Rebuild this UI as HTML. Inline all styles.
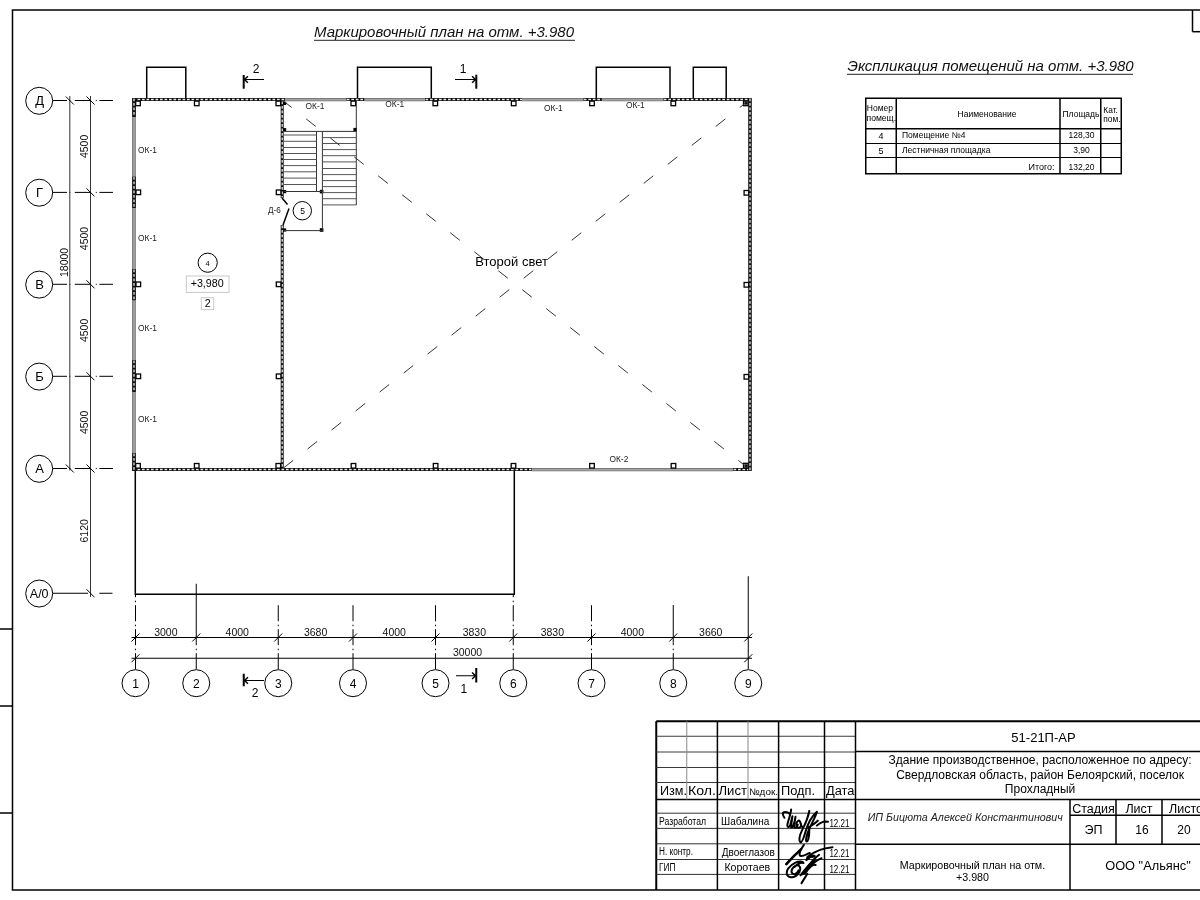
<!DOCTYPE html>
<html><head><meta charset="utf-8"><title>Маркировочный план</title>
<style>
html,body{margin:0;padding:0;background:#fff;}
body{width:1200px;height:900px;overflow:hidden;position:relative;}
svg{position:absolute;left:0;top:0;display:block;will-change:transform;}
text{font-family:"Liberation Sans", sans-serif;}
</style></head><body>
<svg width="1200" height="900" viewBox="0 0 1200 900">
<rect x="0" y="0" width="1200" height="900" fill="#fff"/>
<line x1="12.5" y1="10" x2="12.5" y2="890" stroke="#000" stroke-width="1.5" />
<line x1="11.75" y1="10" x2="1200" y2="10" stroke="#000" stroke-width="1.5" />
<line x1="11.75" y1="890" x2="1200" y2="890" stroke="#000" stroke-width="1.5" />
<line x1="1192.5" y1="10" x2="1192.5" y2="31.7" stroke="#000" stroke-width="1.5" />
<line x1="1192.5" y1="31.7" x2="1200" y2="31.7" stroke="#000" stroke-width="1.5" />
<line x1="0" y1="629" x2="12" y2="629" stroke="#000" stroke-width="1.5" />
<line x1="0" y1="706" x2="12" y2="706" stroke="#000" stroke-width="1.5" />
<line x1="0" y1="813" x2="12" y2="813" stroke="#000" stroke-width="1.5" />
<text x="314" y="37" font-size="15" text-anchor="start" font-style="italic" fill="#111" >Маркировочный план на отм. +3.980</text>
<line x1="314" y1="40.3" x2="575" y2="40.3" stroke="#222" stroke-width="1" />
<text x="847.5" y="70.5" font-size="15" text-anchor="start" font-style="italic" fill="#111" >Экспликация помещений на отм. +3.980</text>
<line x1="847" y1="74.3" x2="1133" y2="74.3" stroke="#222" stroke-width="1" />
<rect x="865.75" y="98.25" width="255.5" height="75.5" stroke="#000" stroke-width="1.5" fill="none" />
<line x1="896.25" y1="98.25" x2="896.25" y2="173.75" stroke="#000" stroke-width="1.5" />
<line x1="1060" y1="98.25" x2="1060" y2="173.75" stroke="#000" stroke-width="1.5" />
<line x1="1100.75" y1="98.25" x2="1100.75" y2="173.75" stroke="#000" stroke-width="1.5" />
<line x1="865.75" y1="128.75" x2="1121.25" y2="128.75" stroke="#000" stroke-width="1.5" />
<line x1="865.75" y1="143.5" x2="1121.25" y2="143.5" stroke="#000" stroke-width="1" />
<line x1="865.75" y1="157.5" x2="1121.25" y2="157.5" stroke="#000" stroke-width="1" />
<text x="866.8" y="111.2" font-size="8.5" text-anchor="start" fill="#000" >Номер</text>
<text x="866.5" y="120.7" font-size="8.6" text-anchor="start" fill="#000" >помещ.</text>
<text x="987" y="116.5" font-size="8.5" text-anchor="middle" fill="#000" >Наименование</text>
<text x="1081" y="117" font-size="8.5" text-anchor="middle" fill="#000" >Площадь</text>
<text x="1103.3" y="113" font-size="8.4" text-anchor="start" fill="#000" >Кат.</text>
<text x="1103.3" y="121.7" font-size="8.4" text-anchor="start" fill="#000" >пом.</text>
<text x="881" y="139" font-size="9" text-anchor="middle" fill="#000" >4</text>
<text x="902" y="138.1" font-size="8.5" text-anchor="start" fill="#000" >Помещение №4</text>
<text x="1081.5" y="138.4" font-size="8.5" text-anchor="middle" fill="#000" >128,30</text>
<text x="881" y="154" font-size="9" text-anchor="middle" fill="#000" >5</text>
<text x="902" y="153" font-size="8.5" text-anchor="start" fill="#000" >Лестничная площадка</text>
<text x="1081.5" y="153.1" font-size="8.5" text-anchor="middle" fill="#000" >3,90</text>
<text x="1054.5" y="170" font-size="9" text-anchor="end" fill="#000" >Итого:</text>
<text x="1081.5" y="169.9" font-size="8.5" text-anchor="middle" fill="#000" >132,20</text>
<polyline points="146.7,98 146.7,67.2 185.8,67.2 185.8,98" fill="none" stroke="#000" stroke-width="1.5"/>
<polyline points="357.5,98 357.5,67.2 431.3,67.2 431.3,98" fill="none" stroke="#000" stroke-width="1.5"/>
<polyline points="596.3,98 596.3,67.2 670,67.2 670,98" fill="none" stroke="#000" stroke-width="1.5"/>
<polyline points="693.3,98 693.3,67.2 726.2,67.2 726.2,98" fill="none" stroke="#000" stroke-width="1.5"/>
<rect x="132.5" y="98" width="152.5" height="3" stroke="none" stroke-width="0" fill="#111" />
<line x1="133.0" y1="99.5" x2="284.5" y2="99.5" stroke="#e6e6e6" stroke-width="1.3" stroke-dasharray="2.7 1.8"/>
<rect x="285" y="98" width="61.30000000000001" height="3.2" stroke="none" stroke-width="0" fill="#a2a2a2" />
<line x1="285" y1="98.5" x2="346.3" y2="98.5" stroke="#7c7c7c" stroke-width="1" />
<line x1="285" y1="100.7" x2="346.3" y2="100.7" stroke="#8c8c8c" stroke-width="1" />
<rect x="346.3" y="98" width="18.399999999999977" height="3" stroke="none" stroke-width="0" fill="#111" />
<line x1="346.8" y1="99.5" x2="364.2" y2="99.5" stroke="#e6e6e6" stroke-width="1.3" stroke-dasharray="2.7 1.8"/>
<rect x="364.7" y="98" width="60.30000000000001" height="3.2" stroke="none" stroke-width="0" fill="#a2a2a2" />
<line x1="364.7" y1="98.5" x2="425" y2="98.5" stroke="#7c7c7c" stroke-width="1" />
<line x1="364.7" y1="100.7" x2="425" y2="100.7" stroke="#8c8c8c" stroke-width="1" />
<rect x="425" y="98" width="97.5" height="3" stroke="none" stroke-width="0" fill="#111" />
<line x1="425.5" y1="99.5" x2="522.0" y2="99.5" stroke="#e6e6e6" stroke-width="1.3" stroke-dasharray="2.7 1.8"/>
<rect x="522.5" y="98" width="60.799999999999955" height="3.2" stroke="none" stroke-width="0" fill="#a2a2a2" />
<line x1="522.5" y1="98.5" x2="583.3" y2="98.5" stroke="#7c7c7c" stroke-width="1" />
<line x1="522.5" y1="100.7" x2="583.3" y2="100.7" stroke="#8c8c8c" stroke-width="1" />
<rect x="583.3" y="98" width="19.200000000000045" height="3" stroke="none" stroke-width="0" fill="#111" />
<line x1="583.8" y1="99.5" x2="602.0" y2="99.5" stroke="#e6e6e6" stroke-width="1.3" stroke-dasharray="2.7 1.8"/>
<rect x="602.5" y="98" width="60.799999999999955" height="3.2" stroke="none" stroke-width="0" fill="#a2a2a2" />
<line x1="602.5" y1="98.5" x2="663.3" y2="98.5" stroke="#7c7c7c" stroke-width="1" />
<line x1="602.5" y1="100.7" x2="663.3" y2="100.7" stroke="#8c8c8c" stroke-width="1" />
<rect x="663.3" y="98" width="87.70000000000005" height="3" stroke="none" stroke-width="0" fill="#111" />
<line x1="663.8" y1="99.5" x2="750.5" y2="99.5" stroke="#e6e6e6" stroke-width="1.3" stroke-dasharray="2.7 1.8"/>
<rect x="132.5" y="468" width="399.5" height="3" stroke="none" stroke-width="0" fill="#111" />
<line x1="133.0" y1="469.5" x2="531.5" y2="469.5" stroke="#e6e6e6" stroke-width="1.3" stroke-dasharray="2.7 1.8"/>
<rect x="532" y="468" width="201" height="3.2" stroke="none" stroke-width="0" fill="#a2a2a2" />
<line x1="532" y1="468.5" x2="733" y2="468.5" stroke="#7c7c7c" stroke-width="1" />
<line x1="532" y1="470.7" x2="733" y2="470.7" stroke="#8c8c8c" stroke-width="1" />
<rect x="733" y="468" width="18" height="3" stroke="none" stroke-width="0" fill="#111" />
<line x1="733.5" y1="469.5" x2="750.5" y2="469.5" stroke="#e6e6e6" stroke-width="1.3" stroke-dasharray="2.7 1.8"/>
<rect x="132.1" y="98" width="3.8" height="19" stroke="none" stroke-width="0" fill="#111" />
<line x1="134.0" y1="98.5" x2="134.0" y2="116.5" stroke="#e6e6e6" stroke-width="1.3" stroke-dasharray="2.7 1.8"/>
<rect x="132.1" y="117" width="3.8" height="59.5" stroke="none" stroke-width="0" fill="#a2a2a2" />
<line x1="132.6" y1="117" x2="132.6" y2="176.5" stroke="#7c7c7c" stroke-width="1" />
<line x1="135.4" y1="117" x2="135.4" y2="176.5" stroke="#8c8c8c" stroke-width="1" />
<rect x="132.1" y="176.5" width="3.8" height="31.5" stroke="none" stroke-width="0" fill="#111" />
<line x1="134.0" y1="177.0" x2="134.0" y2="207.5" stroke="#e6e6e6" stroke-width="1.3" stroke-dasharray="2.7 1.8"/>
<rect x="132.1" y="208" width="3.8" height="61" stroke="none" stroke-width="0" fill="#a2a2a2" />
<line x1="132.6" y1="208" x2="132.6" y2="269" stroke="#7c7c7c" stroke-width="1" />
<line x1="135.4" y1="208" x2="135.4" y2="269" stroke="#8c8c8c" stroke-width="1" />
<rect x="132.1" y="269" width="3.8" height="31.69999999999999" stroke="none" stroke-width="0" fill="#111" />
<line x1="134.0" y1="269.5" x2="134.0" y2="300.2" stroke="#e6e6e6" stroke-width="1.3" stroke-dasharray="2.7 1.8"/>
<rect x="132.1" y="300.7" width="3.8" height="59.30000000000001" stroke="none" stroke-width="0" fill="#a2a2a2" />
<line x1="132.6" y1="300.7" x2="132.6" y2="360" stroke="#7c7c7c" stroke-width="1" />
<line x1="135.4" y1="300.7" x2="135.4" y2="360" stroke="#8c8c8c" stroke-width="1" />
<rect x="132.1" y="360" width="3.8" height="32" stroke="none" stroke-width="0" fill="#111" />
<line x1="134.0" y1="360.5" x2="134.0" y2="391.5" stroke="#e6e6e6" stroke-width="1.3" stroke-dasharray="2.7 1.8"/>
<rect x="132.1" y="392" width="3.8" height="61" stroke="none" stroke-width="0" fill="#a2a2a2" />
<line x1="132.6" y1="392" x2="132.6" y2="453" stroke="#7c7c7c" stroke-width="1" />
<line x1="135.4" y1="392" x2="135.4" y2="453" stroke="#8c8c8c" stroke-width="1" />
<rect x="132.1" y="453" width="3.8" height="18" stroke="none" stroke-width="0" fill="#111" />
<line x1="134.0" y1="453.5" x2="134.0" y2="470.5" stroke="#e6e6e6" stroke-width="1.3" stroke-dasharray="2.7 1.8"/>
<rect x="748.2" y="98" width="3.6" height="373" stroke="none" stroke-width="0" fill="#111" />
<line x1="750.0" y1="98.5" x2="750.0" y2="470.5" stroke="#e6e6e6" stroke-width="1.3" stroke-dasharray="2.7 1.8"/>
<rect x="280.7" y="101" width="3" height="97" stroke="none" stroke-width="0" fill="#111" />
<line x1="282.2" y1="101.5" x2="282.2" y2="197.5" stroke="#e6e6e6" stroke-width="1.3" stroke-dasharray="2.7 1.8"/>
<rect x="280.7" y="225" width="3" height="243" stroke="none" stroke-width="0" fill="#111" />
<line x1="282.2" y1="225.5" x2="282.2" y2="467.5" stroke="#e6e6e6" stroke-width="1.3" stroke-dasharray="2.7 1.8"/>
<rect x="135.7" y="101.10000000000001" width="4.6" height="4.6" stroke="#000" stroke-width="1.3" fill="#fff" />
<rect x="194.45" y="101.10000000000001" width="4.6" height="4.6" stroke="#000" stroke-width="1.3" fill="#fff" />
<rect x="276.0" y="101.10000000000001" width="4.6" height="4.6" stroke="#000" stroke-width="1.3" fill="#fff" />
<rect x="351.0" y="101.10000000000001" width="4.6" height="4.6" stroke="#000" stroke-width="1.3" fill="#fff" />
<rect x="433.0" y="101.10000000000001" width="4.6" height="4.6" stroke="#000" stroke-width="1.3" fill="#fff" />
<rect x="511.40000000000003" y="101.10000000000001" width="4.6" height="4.6" stroke="#000" stroke-width="1.3" fill="#fff" />
<rect x="589.7" y="101.10000000000001" width="4.6" height="4.6" stroke="#000" stroke-width="1.3" fill="#fff" />
<rect x="671.0" y="101.10000000000001" width="4.6" height="4.6" stroke="#000" stroke-width="1.3" fill="#fff" />
<rect x="135.7" y="463.5" width="4.6" height="4.6" stroke="#000" stroke-width="1.3" fill="#fff" />
<rect x="194.39999999999998" y="463.5" width="4.6" height="4.6" stroke="#000" stroke-width="1.3" fill="#fff" />
<rect x="276.0" y="463.5" width="4.6" height="4.6" stroke="#000" stroke-width="1.3" fill="#fff" />
<rect x="351.2" y="463.5" width="4.6" height="4.6" stroke="#000" stroke-width="1.3" fill="#fff" />
<rect x="433.3" y="463.5" width="4.6" height="4.6" stroke="#000" stroke-width="1.3" fill="#fff" />
<rect x="511.2" y="463.5" width="4.6" height="4.6" stroke="#000" stroke-width="1.3" fill="#fff" />
<rect x="589.7" y="463.5" width="4.6" height="4.6" stroke="#000" stroke-width="1.3" fill="#fff" />
<rect x="671.2" y="463.5" width="4.6" height="4.6" stroke="#000" stroke-width="1.3" fill="#fff" />
<rect x="136.0" y="190.0" width="4.6" height="4.6" stroke="#000" stroke-width="1.3" fill="#fff" />
<rect x="744.1" y="190.5" width="4.6" height="4.6" stroke="#000" stroke-width="1.3" fill="#fff" />
<rect x="276.3" y="190.0" width="4.6" height="4.6" stroke="#000" stroke-width="1.3" fill="#fff" />
<rect x="136.0" y="282.0" width="4.6" height="4.6" stroke="#000" stroke-width="1.3" fill="#fff" />
<rect x="744.1" y="282.5" width="4.6" height="4.6" stroke="#000" stroke-width="1.3" fill="#fff" />
<rect x="276.3" y="282.0" width="4.6" height="4.6" stroke="#000" stroke-width="1.3" fill="#fff" />
<rect x="136.0" y="374.0" width="4.6" height="4.6" stroke="#000" stroke-width="1.3" fill="#fff" />
<rect x="744.1" y="374.5" width="4.6" height="4.6" stroke="#000" stroke-width="1.3" fill="#fff" />
<rect x="276.3" y="374.0" width="4.6" height="4.6" stroke="#000" stroke-width="1.3" fill="#fff" />
<rect x="743.5" y="101.10000000000001" width="4.6" height="4.6" stroke="#000" stroke-width="1.3" fill="#fff" />
<rect x="744.5" y="101.7" width="3" height="3" stroke="none" stroke-width="0" fill="#000" />
<rect x="743.5" y="463.3" width="4.6" height="4.6" stroke="#000" stroke-width="1.3" fill="#fff" />
<rect x="744.5" y="464.3" width="3" height="3" stroke="none" stroke-width="0" fill="#000" />
<rect x="283.0" y="101.80000000000001" width="3.2" height="3.2" stroke="none" stroke-width="0" fill="#000" />
<rect x="283.0" y="128.1" width="3.2" height="3.2" stroke="none" stroke-width="0" fill="#000" />
<rect x="353.4" y="127.89999999999999" width="3.6" height="3.6" stroke="none" stroke-width="0" fill="#000" />
<rect x="283.0" y="190.0" width="3.2" height="3.2" stroke="none" stroke-width="0" fill="#000" />
<rect x="319.8" y="189.79999999999998" width="3.6" height="3.6" stroke="none" stroke-width="0" fill="#000" />
<rect x="283.0" y="228.4" width="3.2" height="3.2" stroke="none" stroke-width="0" fill="#000" />
<rect x="319.8" y="228.2" width="3.6" height="3.6" stroke="none" stroke-width="0" fill="#000" />
<line x1="283.7" y1="131.4" x2="356.3" y2="131.4" stroke="#333" stroke-width="1" />
<line x1="356.3" y1="101" x2="356.3" y2="205" stroke="#333" stroke-width="1" />
<line x1="316.5" y1="131.4" x2="316.5" y2="191.5" stroke="#333" stroke-width="1" />
<line x1="322.4" y1="131.4" x2="322.4" y2="230.6" stroke="#333" stroke-width="1" />
<line x1="283.7" y1="135.0" x2="316.5" y2="135.0" stroke="#555" stroke-width="1" />
<line x1="283.7" y1="141.3" x2="316.5" y2="141.3" stroke="#555" stroke-width="1" />
<line x1="283.7" y1="147.5" x2="316.5" y2="147.5" stroke="#555" stroke-width="1" />
<line x1="283.7" y1="153.5" x2="316.5" y2="153.5" stroke="#555" stroke-width="1" />
<line x1="283.7" y1="159.5" x2="316.5" y2="159.5" stroke="#555" stroke-width="1" />
<line x1="283.7" y1="165.6" x2="316.5" y2="165.6" stroke="#555" stroke-width="1" />
<line x1="283.7" y1="171.8" x2="316.5" y2="171.8" stroke="#555" stroke-width="1" />
<line x1="283.7" y1="178.1" x2="316.5" y2="178.1" stroke="#555" stroke-width="1" />
<line x1="283.7" y1="184.5" x2="316.5" y2="184.5" stroke="#555" stroke-width="1" />
<line x1="322.4" y1="137.6" x2="356.3" y2="137.6" stroke="#555" stroke-width="1" />
<line x1="322.4" y1="143.5" x2="356.3" y2="143.5" stroke="#555" stroke-width="1" />
<line x1="322.4" y1="149.6" x2="356.3" y2="149.6" stroke="#555" stroke-width="1" />
<line x1="322.4" y1="155.7" x2="356.3" y2="155.7" stroke="#555" stroke-width="1" />
<line x1="322.4" y1="161.9" x2="356.3" y2="161.9" stroke="#555" stroke-width="1" />
<line x1="322.4" y1="168.5" x2="356.3" y2="168.5" stroke="#555" stroke-width="1" />
<line x1="322.4" y1="174.6" x2="356.3" y2="174.6" stroke="#555" stroke-width="1" />
<line x1="322.4" y1="180.6" x2="356.3" y2="180.6" stroke="#555" stroke-width="1" />
<line x1="322.4" y1="186.6" x2="356.3" y2="186.6" stroke="#555" stroke-width="1" />
<line x1="322.4" y1="192.6" x2="356.3" y2="192.6" stroke="#555" stroke-width="1" />
<line x1="322.4" y1="198.7" x2="356.3" y2="198.7" stroke="#555" stroke-width="1" />
<line x1="322.4" y1="204.9" x2="356.3" y2="204.9" stroke="#555" stroke-width="1" />
<line x1="283.7" y1="191.5" x2="322" y2="191.5" stroke="#333" stroke-width="1" />
<line x1="283.7" y1="230.6" x2="322" y2="230.6" stroke="#333" stroke-width="1" />
<polyline points="282,198 287.5,204.5" stroke="#000" stroke-width="1.5" fill="none"/>
<polyline points="289,208.5 283,225" stroke="#000" stroke-width="1.5" fill="none"/>
<text x="268.1" y="213.2" font-size="9.8" text-anchor="start" fill="#222" textLength="12.8" lengthAdjust="spacingAndGlyphs">Д-6</text>
<circle cx="302.3" cy="210.7" r="9.2" stroke="#000" stroke-width="1" fill="none"/>
<text x="302.5" y="213.8" font-size="8.5" text-anchor="middle" fill="#000" >5</text>
<line x1="283.5" y1="101" x2="748" y2="468" stroke="#333" stroke-width="1" stroke-dasharray="12.2 18.4" stroke-dashoffset="1.7"/>
<line x1="748" y1="101" x2="283.5" y2="468" stroke="#333" stroke-width="1" stroke-dasharray="12.2 18.4" stroke-dashoffset="1.7"/>
<text x="511.6" y="266.3" font-size="13" text-anchor="middle" fill="#000" >Второй свет</text>
<text x="315" y="108.7" font-size="8.4" text-anchor="middle" fill="#222" >ОК-1</text>
<text x="394.7" y="107.2" font-size="8.4" text-anchor="middle" fill="#222" >ОК-1</text>
<text x="553.3" y="110.5" font-size="8.4" text-anchor="middle" fill="#222" >ОК-1</text>
<text x="635.3" y="108.2" font-size="8.4" text-anchor="middle" fill="#222" >ОК-1</text>
<text x="138" y="153.1" font-size="8.4" text-anchor="start" fill="#222" >ОК-1</text>
<text x="138" y="241.1" font-size="8.4" text-anchor="start" fill="#222" >ОК-1</text>
<text x="138" y="330.6" font-size="8.4" text-anchor="start" fill="#222" >ОК-1</text>
<text x="138" y="422.1" font-size="8.4" text-anchor="start" fill="#222" >ОК-1</text>
<text x="618.9" y="462.0" font-size="8.4" text-anchor="middle" fill="#222" >ОК-2</text>
<circle cx="207.7" cy="262.7" r="9.6" stroke="#000" stroke-width="1" fill="none"/>
<text x="207.7" y="265.6" font-size="7.5" text-anchor="middle" fill="#000" >4</text>
<rect x="186.3" y="276" width="42.7" height="16.4" stroke="#c8c8c8" stroke-width="1" fill="#fff" />
<text x="207.2" y="287.3" font-size="10.7" text-anchor="middle" fill="#000" >+3,980</text>
<rect x="201.3" y="297.7" width="12.4" height="11.9" stroke="#c8c8c8" stroke-width="1" fill="#fff" />
<text x="207.7" y="307.3" font-size="10.6" text-anchor="middle" fill="#000" >2</text>
<polyline points="135.3,471 135.3,594.3 514.3,594.3 514.3,471" fill="none" stroke="#000" stroke-width="1.5"/>
<line x1="243.7" y1="75" x2="243.7" y2="88.7" stroke="#000" stroke-width="2" />
<line x1="264" y1="79.5" x2="243.7" y2="79.5" stroke="#000" stroke-width="1" />
<polyline points="247.89999999999998,76.3 244.5,79.5 247.89999999999998,82.7" fill="none" stroke="#000" stroke-width="1.5"/>
<text x="256" y="73" font-size="12" text-anchor="middle" fill="#000" >2</text>
<line x1="476.3" y1="74.7" x2="476.3" y2="88.7" stroke="#000" stroke-width="2" />
<line x1="455" y1="79.5" x2="476.3" y2="79.5" stroke="#000" stroke-width="1" />
<polyline points="472.1,76.3 475.5,79.5 472.1,82.7" fill="none" stroke="#000" stroke-width="1.5"/>
<text x="463" y="73" font-size="12" text-anchor="middle" fill="#000" >1</text>
<line x1="243.75" y1="673.75" x2="243.75" y2="686.25" stroke="#000" stroke-width="2" />
<line x1="264" y1="680.5" x2="243.75" y2="680.5" stroke="#000" stroke-width="1" />
<polyline points="247.95,677.3 244.55,680.5 247.95,683.7" fill="none" stroke="#000" stroke-width="1.5"/>
<text x="255" y="697" font-size="12" text-anchor="middle" fill="#000" >2</text>
<line x1="476.25" y1="668" x2="476.25" y2="682.5" stroke="#000" stroke-width="2" />
<line x1="456" y1="675.75" x2="476.25" y2="675.75" stroke="#000" stroke-width="1" />
<polyline points="472.05,672.55 475.45,675.75 472.05,678.95" fill="none" stroke="#000" stroke-width="1.5"/>
<text x="463.75" y="692.5" font-size="12" text-anchor="middle" fill="#000" >1</text>
<circle cx="39.2" cy="100.8" r="13.5" stroke="#000" stroke-width="1" fill="none"/>
<text x="39.6" y="105.1" font-size="13" text-anchor="middle" fill="#000" >Д</text>
<path d="M52.5,100.5H67 M69.3,100.5H70.3 M74.8,100.5H90.7 M95.8,100.5H96.8 M99.4,100.5H113" stroke="#000" stroke-width="1" fill="none"/>
<circle cx="39.2" cy="192.70000000000002" r="13.5" stroke="#000" stroke-width="1" fill="none"/>
<text x="39.6" y="197.0" font-size="13" text-anchor="middle" fill="#000" >Г</text>
<path d="M52.5,192.4H67 M69.3,192.4H70.3 M74.8,192.4H90.7 M95.8,192.4H96.8 M99.4,192.4H113" stroke="#000" stroke-width="1" fill="none"/>
<circle cx="39.2" cy="284.6" r="13.5" stroke="#000" stroke-width="1" fill="none"/>
<text x="39.6" y="288.90000000000003" font-size="13" text-anchor="middle" fill="#000" >В</text>
<path d="M52.5,284.3H67 M69.3,284.3H70.3 M74.8,284.3H90.7 M95.8,284.3H96.8 M99.4,284.3H113" stroke="#000" stroke-width="1" fill="none"/>
<circle cx="39.2" cy="376.6" r="13.5" stroke="#000" stroke-width="1" fill="none"/>
<text x="39.6" y="380.90000000000003" font-size="13" text-anchor="middle" fill="#000" >Б</text>
<path d="M52.5,376.3H67 M69.3,376.3H70.3 M74.8,376.3H90.7 M95.8,376.3H96.8 M99.4,376.3H113" stroke="#000" stroke-width="1" fill="none"/>
<circle cx="39.2" cy="468.8" r="13.5" stroke="#000" stroke-width="1" fill="none"/>
<text x="39.6" y="473.1" font-size="13" text-anchor="middle" fill="#000" >А</text>
<path d="M52.5,468.5H67 M69.3,468.5H70.3 M74.8,468.5H90.7 M95.8,468.5H96.8 M99.4,468.5H113" stroke="#000" stroke-width="1" fill="none"/>
<circle cx="39.2" cy="593.55" r="13.5" stroke="#000" stroke-width="1" fill="none"/>
<text x="39.2" y="597.85" font-size="12.5" text-anchor="middle" fill="#000" >А/0</text>
<path d="M52.5,593.25H88 M99.3,593.25H112.5" stroke="#000" stroke-width="1" fill="none"/>
<line x1="69.8" y1="96" x2="69.8" y2="470.5" stroke="#333" stroke-width="1" />
<line x1="90.5" y1="96" x2="90.5" y2="597" stroke="#333" stroke-width="1" />
<line x1="65.8" y1="96.5" x2="73.8" y2="104.5" stroke="#000" stroke-width="1" />
<line x1="86.5" y1="96.5" x2="94.5" y2="104.5" stroke="#000" stroke-width="1" />
<line x1="86.5" y1="188.4" x2="94.5" y2="196.4" stroke="#000" stroke-width="1" />
<line x1="86.5" y1="280.3" x2="94.5" y2="288.3" stroke="#000" stroke-width="1" />
<line x1="86.5" y1="372.3" x2="94.5" y2="380.3" stroke="#000" stroke-width="1" />
<line x1="65.8" y1="464.5" x2="73.8" y2="472.5" stroke="#000" stroke-width="1" />
<line x1="86.5" y1="464.5" x2="94.5" y2="472.5" stroke="#000" stroke-width="1" />
<line x1="86.5" y1="589.25" x2="94.5" y2="597.25" stroke="#000" stroke-width="1" />
<text x="88.0" y="146.4" font-size="10.5" text-anchor="middle" transform="rotate(-90 88.0 146.4)" fill="#111">4500</text>
<text x="88.0" y="238.5" font-size="10.5" text-anchor="middle" transform="rotate(-90 88.0 238.5)" fill="#111">4500</text>
<text x="88.0" y="330.4" font-size="10.5" text-anchor="middle" transform="rotate(-90 88.0 330.4)" fill="#111">4500</text>
<text x="88.0" y="422.4" font-size="10.5" text-anchor="middle" transform="rotate(-90 88.0 422.4)" fill="#111">4500</text>
<text x="67.8" y="262.4" font-size="10.5" text-anchor="middle" transform="rotate(-90 67.8 262.4)" fill="#111">18000</text>
<text x="88.0" y="530.8" font-size="10.5" text-anchor="middle" transform="rotate(-90 88.0 530.8)" fill="#111">6120</text>
<circle cx="135.5" cy="683.2" r="13.5" stroke="#000" stroke-width="1" fill="none"/>
<text x="135.5" y="687.5" font-size="12" text-anchor="middle" fill="#000" >1</text>
<line x1="135.5" y1="669.2" x2="135.5" y2="594" stroke="#000" stroke-width="1" stroke-dasharray="16 3 1.5 3.5"/>
<circle cx="196.25" cy="683.2" r="13.5" stroke="#000" stroke-width="1" fill="none"/>
<text x="196.25" y="687.5" font-size="12" text-anchor="middle" fill="#000" >2</text>
<line x1="196.25" y1="669.2" x2="196.25" y2="642.3" stroke="#000" stroke-width="1" stroke-dasharray="16 3 1.5 3.5"/>
<line x1="196.25" y1="583.75" x2="196.25" y2="642.3" stroke="#000" stroke-width="1" />
<circle cx="278.25" cy="683.2" r="13.5" stroke="#000" stroke-width="1" fill="none"/>
<text x="278.25" y="687.5" font-size="12" text-anchor="middle" fill="#000" >3</text>
<line x1="278.25" y1="669.2" x2="278.25" y2="605" stroke="#000" stroke-width="1" stroke-dasharray="16 3 1.5 3.5"/>
<circle cx="353" cy="683.2" r="13.5" stroke="#000" stroke-width="1" fill="none"/>
<text x="353" y="687.5" font-size="12" text-anchor="middle" fill="#000" >4</text>
<line x1="353" y1="669.2" x2="353" y2="605" stroke="#000" stroke-width="1" stroke-dasharray="16 3 1.5 3.5"/>
<circle cx="435.5" cy="683.2" r="13.5" stroke="#000" stroke-width="1" fill="none"/>
<text x="435.5" y="687.5" font-size="12" text-anchor="middle" fill="#000" >5</text>
<line x1="435.5" y1="669.2" x2="435.5" y2="605" stroke="#000" stroke-width="1" stroke-dasharray="16 3 1.5 3.5"/>
<circle cx="513.25" cy="683.2" r="13.5" stroke="#000" stroke-width="1" fill="none"/>
<text x="513.25" y="687.5" font-size="12" text-anchor="middle" fill="#000" >6</text>
<line x1="513.25" y1="669.2" x2="513.25" y2="594" stroke="#000" stroke-width="1" stroke-dasharray="16 3 1.5 3.5"/>
<circle cx="591.5" cy="683.2" r="13.5" stroke="#000" stroke-width="1" fill="none"/>
<text x="591.5" y="687.5" font-size="12" text-anchor="middle" fill="#000" >7</text>
<line x1="591.5" y1="669.2" x2="591.5" y2="605" stroke="#000" stroke-width="1" stroke-dasharray="16 3 1.5 3.5"/>
<circle cx="673.25" cy="683.2" r="13.5" stroke="#000" stroke-width="1" fill="none"/>
<text x="673.25" y="687.5" font-size="12" text-anchor="middle" fill="#000" >8</text>
<line x1="673.25" y1="669.2" x2="673.25" y2="642.3" stroke="#000" stroke-width="1" stroke-dasharray="16 3 1.5 3.5"/>
<line x1="673.25" y1="605" x2="673.25" y2="642.3" stroke="#000" stroke-width="1" />
<circle cx="748.25" cy="683.2" r="13.5" stroke="#000" stroke-width="1" fill="none"/>
<text x="748.25" y="687.5" font-size="12" text-anchor="middle" fill="#000" >9</text>
<line x1="748.25" y1="576.25" x2="748.25" y2="669.2" stroke="#000" stroke-width="1" />
<line x1="131.5" y1="637.5" x2="752" y2="637.5" stroke="#000" stroke-width="1" />
<line x1="131.5" y1="658.25" x2="752" y2="658.25" stroke="#000" stroke-width="1" />
<line x1="131.5" y1="641.5" x2="139.5" y2="633.5" stroke="#000" stroke-width="1" />
<line x1="192.25" y1="641.5" x2="200.25" y2="633.5" stroke="#000" stroke-width="1" />
<line x1="274.25" y1="641.5" x2="282.25" y2="633.5" stroke="#000" stroke-width="1" />
<line x1="349" y1="641.5" x2="357" y2="633.5" stroke="#000" stroke-width="1" />
<line x1="431.5" y1="641.5" x2="439.5" y2="633.5" stroke="#000" stroke-width="1" />
<line x1="509.25" y1="641.5" x2="517.25" y2="633.5" stroke="#000" stroke-width="1" />
<line x1="587.5" y1="641.5" x2="595.5" y2="633.5" stroke="#000" stroke-width="1" />
<line x1="669.25" y1="641.5" x2="677.25" y2="633.5" stroke="#000" stroke-width="1" />
<line x1="744.25" y1="641.5" x2="752.25" y2="633.5" stroke="#000" stroke-width="1" />
<line x1="131.5" y1="662.25" x2="139.5" y2="654.25" stroke="#000" stroke-width="1" />
<line x1="744.25" y1="662.25" x2="752.25" y2="654.25" stroke="#000" stroke-width="1" />
<text x="165.875" y="635.5" font-size="10.5" text-anchor="middle" fill="#111" >3000</text>
<text x="237.25" y="635.5" font-size="10.5" text-anchor="middle" fill="#111" >4000</text>
<text x="315.625" y="635.5" font-size="10.5" text-anchor="middle" fill="#111" >3680</text>
<text x="394.25" y="635.5" font-size="10.5" text-anchor="middle" fill="#111" >4000</text>
<text x="474.375" y="635.5" font-size="10.5" text-anchor="middle" fill="#111" >3830</text>
<text x="552.375" y="635.5" font-size="10.5" text-anchor="middle" fill="#111" >3830</text>
<text x="632.375" y="635.5" font-size="10.5" text-anchor="middle" fill="#111" >4000</text>
<text x="710.75" y="635.5" font-size="10.5" text-anchor="middle" fill="#111" >3660</text>
<text x="467.5" y="656" font-size="10.5" text-anchor="middle" fill="#111" >30000</text>
<line x1="656.25" y1="721.25" x2="1200" y2="721.25" stroke="#000" stroke-width="2" />
<line x1="656.25" y1="721.25" x2="656.25" y2="890" stroke="#000" stroke-width="2" />
<line x1="656.25" y1="736.25" x2="855.5" y2="736.25" stroke="#3a3a3a" stroke-width="1" />
<line x1="656.25" y1="752" x2="855.5" y2="752" stroke="#3a3a3a" stroke-width="1" />
<line x1="656.25" y1="767.5" x2="855.5" y2="767.5" stroke="#3a3a3a" stroke-width="1" />
<line x1="656.25" y1="782.5" x2="855.5" y2="782.5" stroke="#3a3a3a" stroke-width="1" />
<line x1="656.25" y1="799.5" x2="855.5" y2="799.5" stroke="#000" stroke-width="1.5" />
<line x1="656.25" y1="813.2" x2="855.5" y2="813.2" stroke="#333" stroke-width="1" />
<line x1="656.25" y1="828.4" x2="855.5" y2="828.4" stroke="#333" stroke-width="1" />
<line x1="656.25" y1="843.8" x2="855.5" y2="843.8" stroke="#333" stroke-width="1" />
<line x1="656.25" y1="859.5" x2="855.5" y2="859.5" stroke="#333" stroke-width="1" />
<line x1="656.25" y1="874.4" x2="855.5" y2="874.4" stroke="#333" stroke-width="1" />
<line x1="686.75" y1="721.25" x2="686.75" y2="799.5" stroke="#888" stroke-width="1" />
<line x1="748" y1="721.25" x2="748" y2="799.5" stroke="#888" stroke-width="1" />
<line x1="717.4" y1="721.25" x2="717.4" y2="890" stroke="#000" stroke-width="1.5" />
<line x1="778.6" y1="721.25" x2="778.6" y2="890" stroke="#000" stroke-width="1.5" />
<line x1="824.5" y1="721.25" x2="824.5" y2="890" stroke="#000" stroke-width="1.5" />
<line x1="855.5" y1="721.25" x2="855.5" y2="890" stroke="#000" stroke-width="1.5" />
<line x1="855.5" y1="751.5" x2="1200" y2="751.5" stroke="#000" stroke-width="1.5" />
<line x1="855.5" y1="799.6" x2="1200" y2="799.6" stroke="#000" stroke-width="1.5" />
<line x1="855.5" y1="844.2" x2="1200" y2="844.2" stroke="#000" stroke-width="1.5" />
<line x1="1070" y1="799.6" x2="1070" y2="890" stroke="#000" stroke-width="1.5" />
<line x1="1116" y1="799.6" x2="1116" y2="844.2" stroke="#000" stroke-width="1.5" />
<line x1="1162" y1="799.6" x2="1162" y2="844.2" stroke="#000" stroke-width="1.5" />
<line x1="1070" y1="815.3" x2="1200" y2="815.3" stroke="#000" stroke-width="1.5" />
<text x="660" y="794.6" font-size="12.5" text-anchor="start" fill="#000" textLength="27" lengthAdjust="spacingAndGlyphs">Изм.</text>
<text x="688" y="794.6" font-size="12.5" text-anchor="start" fill="#000" textLength="28" lengthAdjust="spacingAndGlyphs">Кол.</text>
<text x="718.5" y="794.6" font-size="12.5" text-anchor="start" fill="#000" textLength="28.5" lengthAdjust="spacingAndGlyphs">Лист</text>
<text x="749" y="794.6" font-size="9.5" text-anchor="start" fill="#000" textLength="29" lengthAdjust="spacingAndGlyphs">№док.</text>
<text x="781" y="794.6" font-size="12.5" text-anchor="start" fill="#000" textLength="34" lengthAdjust="spacingAndGlyphs">Подп.</text>
<text x="826" y="794.6" font-size="12.5" text-anchor="start" fill="#000" textLength="28.5" lengthAdjust="spacingAndGlyphs">Дата</text>
<text x="659" y="825.2" font-size="10" text-anchor="start" fill="#000" textLength="47" lengthAdjust="spacingAndGlyphs">Разработал</text>
<text x="721" y="825" font-size="10" text-anchor="start" fill="#000" >Шабалина</text>
<text x="829.4" y="827" font-size="10" text-anchor="start" fill="#000" textLength="20" lengthAdjust="spacingAndGlyphs">12.21</text>
<text x="659" y="855.2" font-size="10" text-anchor="start" fill="#000" textLength="34" lengthAdjust="spacingAndGlyphs">Н. контр.</text>
<text x="721.75" y="855.5" font-size="10" text-anchor="start" fill="#000" >Двоеглазов</text>
<text x="829.4" y="857" font-size="10" text-anchor="start" fill="#000" textLength="20" lengthAdjust="spacingAndGlyphs">12.21</text>
<text x="659" y="871.2" font-size="10" text-anchor="start" fill="#000" textLength="16.5" lengthAdjust="spacingAndGlyphs">ГИП</text>
<text x="724.4" y="871.2" font-size="10.6" text-anchor="start" fill="#000" >Коротаев</text>
<text x="829.4" y="872.5" font-size="10" text-anchor="start" fill="#000" textLength="20" lengthAdjust="spacingAndGlyphs">12.21</text>
<text x="1043.5" y="741.9" font-size="13" text-anchor="middle" fill="#000" >51-21П-АР</text>
<text x="1040.1" y="764.2" font-size="12" text-anchor="middle" fill="#000" >Здание производственное, расположенное по адресу:</text>
<text x="1040.1" y="778.8" font-size="12" text-anchor="middle" fill="#000" >Свердловская область, район Белоярский, поселок</text>
<text x="1040.1" y="792.6" font-size="12" text-anchor="middle" fill="#000" >Прохладный</text>
<text x="965.2" y="821.2" font-size="10.7" text-anchor="middle" font-style="italic" fill="#222" >ИП Бицюта Алексей Константинович</text>
<text x="1093.5" y="813" font-size="12.5" text-anchor="middle" fill="#000" >Стадия</text>
<text x="1139" y="813" font-size="12.5" text-anchor="middle" fill="#000" >Лист</text>
<text x="1169" y="813" font-size="12.5" text-anchor="start" fill="#000" >Листов</text>
<text x="1093.6" y="834" font-size="12.5" text-anchor="middle" fill="#000" >ЭП</text>
<text x="1142" y="834" font-size="12" text-anchor="middle" fill="#000" >16</text>
<text x="1184" y="834" font-size="12" text-anchor="middle" fill="#000" >20</text>
<text x="972.5" y="869" font-size="10.7" text-anchor="middle" fill="#000" >Маркировочный план на отм.</text>
<text x="972.5" y="881" font-size="10.7" text-anchor="middle" fill="#000" >+3.980</text>
<text x="1148" y="869.6" font-size="12.8" text-anchor="middle" fill="#000" >ООО "Альянс"</text>
<path d="M 784.44,817.78 C 783.11,815.78 781.78,812.67 784.00,812.22 C 786.22,811.78 788.44,812.67 789.56,813.78 M 791.11,809.56 C 790.89,814.89 787.11,822.89 787.33,825.56 C 787.56,827.33 789.33,827.78 790.22,825.11 C 791.11,822.00 792.00,817.56 792.44,816.22 C 792.22,819.33 790.67,825.56 791.33,827.33 C 792.22,828.22 793.33,826.00 794.22,822.89 C 794.89,820.22 795.33,817.56 795.56,816.67 C 795.11,820.22 793.33,826.89 794.67,827.78 C 796.00,828.22 796.89,826.89 797.78,824.67 M 799.56,820.67 C 797.78,820.22 796.00,822.44 796.44,825.56 C 796.89,828.22 799.56,828.22 800.89,826.44 C 801.33,824.67 800.89,822.89 800.00,821.56 C 800.89,824.67 801.33,827.33 803.11,827.33 C 804.89,826.00 807.56,817.56 809.33,810.89 C 808.44,817.11 804.89,824.67 801.78,830.89 C 799.11,836.22 798.67,841.11 800.44,842.44 C 802.22,842.89 804.00,837.11 805.78,830.89 C 807.56,824.67 811.11,817.11 816.89,811.78 C 816.44,814.89 811.11,824.67 808.44,830.89 C 806.22,836.22 805.33,841.11 806.67,841.56 C 808.44,841.56 809.33,834.89 809.33,829.11 C 808.89,827.33 808.44,826.44 810.22,826.44 C 812.89,824.67 815.56,822.89 817.78,820.67 M 816.89,825.56 C 820.00,823.33 822.22,821.56 824.89,821.56 L 828.00,821.78" fill="none" stroke="#000" stroke-width="2" stroke-linecap="round" stroke-linejoin="round"/>
<path d="M 786.35,864.04 C 789.78,860.13 796.13,853.78 801.02,849.38 L 803.95,844.73 M 801.02,848.89 C 799.55,852.80 798.57,855.73 801.02,855.97 C 803.46,856.22 806.39,854.26 809.81,853.04 M 807.37,856.95 C 811.77,853.29 819.10,848.40 832.54,847.18 M 802.97,862.08 C 798.57,860.13 792.22,863.55 788.31,868.44 C 785.38,872.35 786.35,876.26 790.75,877.24 C 794.66,877.72 797.60,874.79 799.55,871.86 C 801.51,868.44 799.55,864.53 796.13,865.51 C 792.71,866.48 790.26,871.37 792.22,873.33 C 794.17,875.28 797.60,873.33 798.57,870.39 M 794.66,866.97 C 796.62,864.53 800.53,862.08 803.46,863.06 M 800.53,875.28 C 805.42,869.42 811.77,860.13 819.10,854.75 M 802.48,874.30 C 807.37,868.44 814.21,861.11 821.54,858.17 M 804.93,873.33 C 809.33,867.46 813.24,863.55 815.68,865.02 M 806.39,860.13 C 808.35,857.69 810.30,855.73 812.26,856.71 M 801.51,883.10 L 807.37,873.81" fill="none" stroke="#000" stroke-width="2" stroke-linecap="round" stroke-linejoin="round"/>
<path d="M 786.35,864.04 C 789.78,860.13 796.13,853.78 801.02,849.38" fill="none" stroke="#000" stroke-width="2.6" stroke-linecap="round"/>
<path d="M 805.42,871.37 C 809.33,865.99 812.26,862.57 814.21,860.13 M 807.37,858.66 C 809.33,856.71 811.28,855.73 814.21,856.22" fill="none" stroke="#000" stroke-width="3" stroke-linecap="round"/>
</svg>
</body></html>
